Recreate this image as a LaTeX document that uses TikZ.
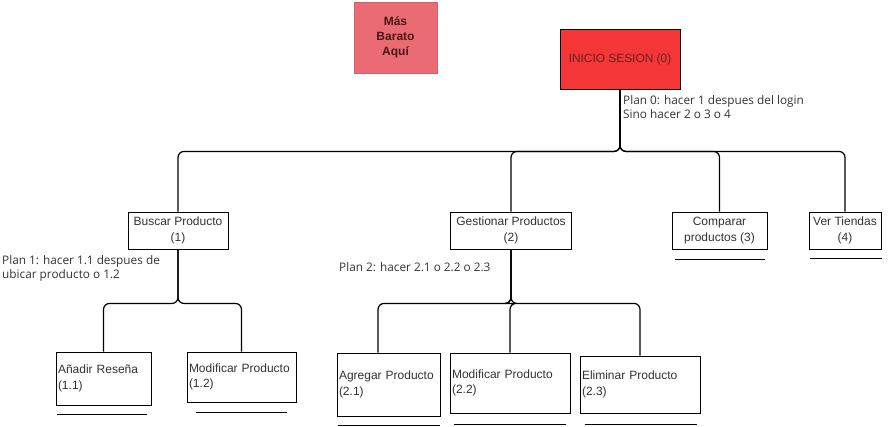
\documentclass[tikz,border=0pt]{standalone}
\usepackage{fontspec}
\setmainfont{Liberation Sans}
\newfontfamily\planfont{Open Sans}
\usetikzlibrary{calc}
\usetikzlibrary{positioning}

\definecolor{rojoBarato}{HTML}{EA6B73}
\definecolor{rojoInicio}{HTML}{F43636}
\definecolor{textoInicio}{HTML}{6A2020}
\definecolor{textoBarato}{HTML}{4A1616}

\tikzset{
  tarea/.style={rectangle,draw,line width=0.9pt,fill=white,align=center,inner sep=2pt,
    text=black!80,font=\fontsize{12}{15.5}\selectfont},
  hoja/.style={tarea,align=left},
  plan/.style={anchor=north west,inner sep=0pt,align=left,text=black!80,
    font=\planfont\fontsize{11.8}{14}\selectfont},
  rama/.style={line width=1.2pt,rounded corners=6pt},
  subraya/.style={line width=1.2pt}
}

% linea bajo una caja: nodo, bajada, recorte izq, recorte der
\newcommand{\subrayar}[4]{%
  \draw[subraya] ($(#1.south west)+(#3,#2)$) -- ($(#1.south east)+(-#4,#2)$);}

\begin{document}
\begin{tikzpicture}[x=1pt,y=-1pt]
  \useasboundingbox (0,0) rectangle (892,427);

  % cabecera
  \node[rectangle,fill=rojoBarato,draw=rojoBarato!90!black,minimum width=83,minimum height=71,
    align=center,text=textoBarato,font=\bfseries\fontsize{12}{15}\selectfont] (barato) at (395.5,37.5)
    {Más\\Barato\\Aquí};
  \node[rectangle,draw,line width=0.9pt,fill=rojoInicio,minimum width=120,minimum height=60,
    text=textoInicio,font=\fontsize{11.9}{13}\selectfont] (inicio) at (620,59) {INICIO SESION (0)};
  \node[plan] (plan0) at (623,95) {Plan 0: hacer 1 despues del login\\Sino hacer 2 o 3 o 4};

  % nivel 1
  \node[tarea,minimum width=100,minimum height=37] (buscar) at (178,230.5) {Buscar Producto\\(1)};
  \node[tarea,minimum width=121,minimum height=37] (gestionar) at (511,230.5) {Gestionar Productos\\(2)};
  \node[tarea,minimum width=95,minimum height=37] (comparar) at (719.5,230.5) {Comparar\\productos (3)};
  \node[tarea,minimum width=72,minimum height=37] (tiendas) at (845,230.5) {Ver Tiendas\\(4)};

  \node[plan] (plan1) at (2,255) {Plan 1: hacer 1.1 despues de\\ubicar producto o 1.2};
  \node[plan] (plan2) at (339,262) {Plan 2: hacer 2.1 o 2.2 o 2.3};

  % nivel 2
  \node[hoja,text width=91pt,minimum height=53] (a11) at (103.5,378.5) {Añadir Reseña\\(1.1)};
  \node[hoja,text width=105pt,minimum height=50] (a12) at (241.5,377) {Modificar Producto\\(1.2)};
  \node[hoja,text width=99pt,minimum height=63] (a21) at (388.5,384.5) {Agregar Producto\\(2.1)};
  \node[hoja,text width=116pt,minimum height=60] (a22) at (510,383) {Modificar Producto\\(2.2)};
  \node[hoja,text width=116pt,minimum height=57] (a23) at (640,384.5) {Eliminar Producto\\(2.3)};

  % ramas
  \draw[rama] (inicio.south) -- ++(0,62) -| (buscar.north);
  \draw[rama] (inicio.south) -- ++(0,62) -| (gestionar.north);
  \draw[rama] (inicio.south) -- ++(0,62) -| (comparar.north);
  \draw[rama] (inicio.south) -- ++(0,62) -| (tiendas.north);
  \draw[rama] (buscar.south) -- ++(0,54) -| (a11.north);
  \draw[rama] (buscar.south) -- ++(0,54) -| (a12.north);
  \draw[rama] (gestionar.south) -- ++(0,54) -| ([xshift=-10.5pt]a21.north);
  \draw[rama] (gestionar.south) -- ++(0,54) -| (a22.north);
  \draw[rama] (gestionar.south) -- ++(0,54) -| (a23.north);

  % lineas bajo las cajas
  \subrayar{comparar}{10}{3}{2}
  \subrayar{tiendas}{9}{1}{-1}
  \subrayar{a11}{9}{1}{4}
  \subrayar{a12}{10}{9}{9}
  \subrayar{a21}{9}{1}{0}
  \subrayar{a22}{11}{4}{4}
  \subrayar{a23}{11}{5}{3}
\end{tikzpicture}
\end{document}
